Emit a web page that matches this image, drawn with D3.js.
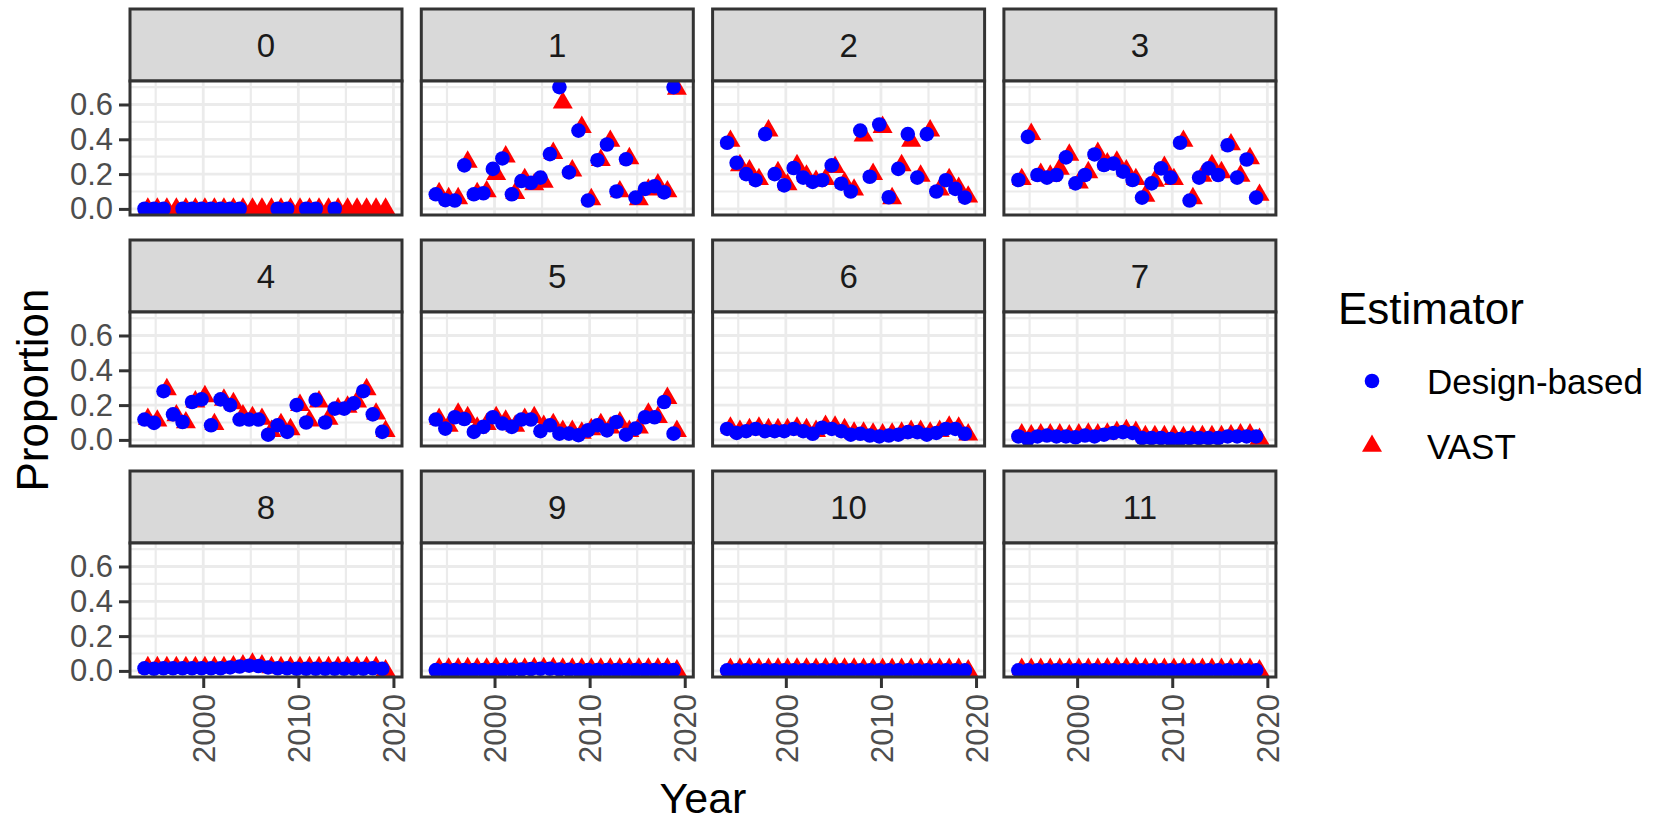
<!DOCTYPE html>
<html>
<head>
<meta charset="utf-8">
<script src="https://cdn.jsdelivr.net/npm/d3@7"></script>
<style>
  body { margin: 0; background: #ffffff; }
  text { font-family: "Liberation Sans", Arial, sans-serif; }
</style>
</head>
<body>
<svg id="chart" width="1670" height="825"></svg>
<script>
// Survey years and age classes (one facet per age)
const years = [1994, 1995, 1996, 1997, 1998, 1999, 2000, 2001, 2002, 2003, 2004, 2005, 2006,
               2007, 2008, 2009, 2010, 2011, 2012, 2013, 2014, 2015, 2016, 2017, 2018, 2019];
const ages = ["0", "1", "2", "3", "4", "5", "6", "7", "8", "9", "10", "11"];
const estimators = ["Design-based", "VAST"];

// Proportion at age, design-based estimator (null = no estimate that year)
const design0 = [0.001, 0.001, 0.001, null, 0.001, 0.001, 0.001, 0.001, 0.001, 0.001, 0.001, null, null,
                 null, 0.001, 0.001, null, 0.001, 0.001, null, 0.001, null, null, null, null, null];
const design1 = [0.084, 0.05, 0.048, 0.25, 0.084, 0.09, 0.23, 0.29, 0.084, 0.16, 0.15, 0.18, 0.315,
                 0.70, 0.21, 0.45, 0.048, 0.28, 0.37, 0.10, 0.285, 0.065, 0.115, 0.13, 0.095, 0.70];
const design2 = [0.38, 0.265, 0.20, 0.165, 0.43, 0.20, 0.135, 0.235, 0.18, 0.155, 0.165, 0.25, 0.145,
                 0.10, 0.45, 0.185, 0.485, 0.067, 0.23, 0.43, 0.18, 0.43, 0.10, 0.165, 0.115, 0.065];
const design3 = [0.166, 0.414, 0.195, 0.18, 0.195, 0.296, 0.147, 0.195, 0.313, 0.252, 0.26, 0.214, 0.166,
                 0.065, 0.147, 0.233, 0.18, 0.38, 0.048, 0.18, 0.233, 0.195, 0.366, 0.18, 0.284, 0.065];
const design4 = [0.117, 0.098, 0.28, 0.147, 0.103, 0.218, 0.233, 0.084, 0.233, 0.20, 0.117, 0.117, 0.117,
                 0.03, 0.084, 0.046, 0.20, 0.10, 0.23, 0.10, 0.18, 0.18, 0.21, 0.28, 0.147, 0.046];
const design5 = [0.117, 0.065, 0.13, 0.12, 0.046, 0.075, 0.13, 0.094, 0.075, 0.117, 0.117, 0.05, 0.084,
                 0.036, 0.036, 0.027, 0.055, 0.084, 0.055, 0.103, 0.03, 0.065, 0.13, 0.13, 0.218, 0.036];
const design6 = [0.063, 0.04, 0.05, 0.063, 0.05, 0.05, 0.05, 0.063, 0.05, 0.035, 0.07, 0.063, 0.05,
                 0.03, 0.035, 0.025, 0.02, 0.025, 0.03, 0.045, 0.045, 0.03, 0.04, 0.063, 0.063, 0.035];
const design7 = [0.02, 0.005, 0.02, 0.025, 0.02, 0.02, 0.015, 0.025, 0.02, 0.03, 0.04, 0.045, 0.04,
                 0.01, 0.01, 0.01, 0.005, 0.005, 0.01, 0.01, 0.01, 0.01, 0.02, 0.02, 0.02, 0.02];
const design8 = [0.015, 0.012, 0.015, 0.015, 0.015, 0.015, 0.015, 0.015, 0.015, 0.02, 0.025, 0.03, 0.028,
                 0.02, 0.015, 0.015, 0.012, 0.012, 0.012, 0.012, 0.012, 0.012, 0.012, 0.012, 0.015, 0.012];
const design9 = [0.005, 0.005, 0.005, 0.005, 0.005, 0.005, 0.005, 0.005, 0.006, 0.008, 0.01, 0.012, 0.012,
                 0.008, 0.006, 0.005, 0.005, 0.005, 0.005, 0.005, 0.005, 0.005, 0.005, 0.005, 0.005, 0.005];
const design10 = [0.003, 0.003, 0.003, 0.003, 0.003, 0.003, 0.003, 0.003, 0.003, 0.003, 0.003, 0.003, 0.003,
                  0.003, 0.003, 0.003, 0.003, 0.003, 0.003, 0.003, 0.003, 0.003, 0.003, 0.003, 0.003, 0.003];
const design11 = [0.003, 0.003, 0.003, 0.003, 0.003, 0.003, 0.003, 0.003, 0.003, 0.003, 0.003, 0.003, 0.003,
                  0.003, 0.003, 0.003, 0.003, 0.003, 0.003, 0.003, 0.003, 0.003, 0.003, 0.003, 0.003, 0.003];

// Proportion at age, VAST model-based estimator
const vast0 = [0.001, 0.001, 0.001, 0.001, 0.001, 0.001, 0.001, 0.001, 0.001, 0.001, 0.001, 0.001, 0.001,
               0.001, 0.001, 0.001, 0.001, 0.001, 0.001, 0.001, 0.001, 0.001, 0.001, 0.001, 0.001, 0.0];
const vast1 = [0.09, 0.06, 0.06, 0.27, 0.09, 0.10, 0.20, 0.30, 0.09, 0.17, 0.14, 0.155, 0.32,
               0.61, 0.22, 0.47, 0.055, 0.28, 0.39, 0.10, 0.29, 0.055, 0.11, 0.14, 0.10, 0.69];
const vast2 = [0.39, 0.25, 0.22, 0.17, 0.45, 0.21, 0.14, 0.25, 0.19, 0.16, 0.17, 0.24, 0.15,
               0.11, 0.42, 0.20, 0.47, 0.06, 0.25, 0.39, 0.19, 0.45, 0.11, 0.17, 0.12, 0.07];
const vast3 = [0.17, 0.43, 0.20, 0.19, 0.23, 0.31, 0.15, 0.21, 0.32, 0.26, 0.27, 0.22, 0.17,
               0.075, 0.16, 0.24, 0.17, 0.39, 0.06, 0.19, 0.25, 0.21, 0.37, 0.19, 0.29, 0.08];
const vast4 = [0.12, 0.11, 0.29, 0.14, 0.10, 0.22, 0.25, 0.09, 0.23, 0.21, 0.14, 0.13, 0.12,
               0.05, 0.09, 0.06, 0.20, 0.11, 0.22, 0.12, 0.18, 0.19, 0.22, 0.29, 0.15, 0.05];
const vast5 = [0.12, 0.08, 0.15, 0.13, 0.07, 0.09, 0.13, 0.11, 0.08, 0.12, 0.13, 0.08, 0.09,
               0.05, 0.05, 0.04, 0.06, 0.09, 0.07, 0.10, 0.05, 0.07, 0.15, 0.13, 0.24, 0.05];
const vast6 = [0.07, 0.05, 0.06, 0.07, 0.06, 0.06, 0.06, 0.07, 0.06, 0.05, 0.08, 0.075, 0.06,
               0.04, 0.04, 0.035, 0.03, 0.035, 0.04, 0.05, 0.05, 0.04, 0.05, 0.075, 0.07, 0.03];
const vast7 = [0.03, 0.025, 0.03, 0.03, 0.03, 0.025, 0.03, 0.035, 0.03, 0.035, 0.045, 0.055, 0.045,
               0.02, 0.02, 0.02, 0.02, 0.015, 0.02, 0.02, 0.02, 0.02, 0.025, 0.03, 0.03, 0.005];
const vast8 = [0.02, 0.02, 0.02, 0.02, 0.02, 0.02, 0.02, 0.02, 0.02, 0.025, 0.03, 0.04, 0.03,
               0.02, 0.02, 0.02, 0.02, 0.02, 0.02, 0.02, 0.02, 0.02, 0.02, 0.02, 0.02, 0.002];
const vast9 = [0.012, 0.012, 0.012, 0.015, 0.012, 0.012, 0.015, 0.012, 0.012, 0.012, 0.015, 0.015, 0.015,
               0.012, 0.012, 0.012, 0.012, 0.012, 0.012, 0.012, 0.012, 0.012, 0.012, 0.012, 0.012, 0.002];
const vast10 = [0.01, 0.01, 0.012, 0.01, 0.01, 0.012, 0.01, 0.012, 0.012, 0.01, 0.012, 0.015, 0.012,
                0.012, 0.01, 0.01, 0.01, 0.01, 0.01, 0.01, 0.01, 0.01, 0.01, 0.01, 0.01, 0.002];
const vast11 = [0.01, 0.01, 0.01, 0.01, 0.01, 0.01, 0.01, 0.01, 0.01, 0.012, 0.015, 0.012, 0.015,
                0.01, 0.01, 0.01, 0.01, 0.01, 0.01, 0.01, 0.01, 0.01, 0.01, 0.01, 0.01, 0.002];

const designByAge = [design0, design1, design2, design3, design4, design5,
                     design6, design7, design8, design9, design10, design11];
const vastByAge = [vast0, vast1, vast2, vast3, vast4, vast5,
                   vast6, vast7, vast8, vast9, vast10, vast11];

// Axis ticks
const yMajor = [0, 0.2, 0.4, 0.6];
const yMinor = [0.1, 0.3, 0.5, 0.7];
const xMajor = [2000, 2010, 2020];
const xMinor = [1995, 2005, 2015];

// ---- layout ----
const nCol = 4;
const panelLeft0 = 130, colPitch = 291.3, panelW = 272;
const stripTop0 = 9, rowPitch = 231, stripH = 72, panelH = 134;
const dodge = 0.175;
const tickFont = 31;

const colors = { "Design-based": "#0000FF", "VAST": "#FF0000" };
const border = "#333333";

const svg = d3.select("#chart");

const x = d3.scaleLinear().domain([1992.3, 2020.9]).range([0, panelW]);
const y = d3.scaleLinear().domain([-0.035, 0.735]).range([panelH, 0]);

// filled-circle and filled-triangle symbols (triangle centred on its centroid)
const rCircle = 7.3;
function trianglePath(cx, cy) {
  const half = 10, up = 11.6, down = 5.8;
  return `M${cx},${cy - up}L${cx + half},${cy + down}L${cx - half},${cy + down}Z`;
}

svg.append("defs").append("clipPath").attr("id", "panel-clip")
  .append("rect").attr("x", 0).attr("y", 0).attr("width", panelW).attr("height", panelH);

ages.forEach((age, i) => {
  const col = i % nCol, row = Math.floor(i / nCol);
  const left = panelLeft0 + col * colPitch;
  const stripTop = stripTop0 + row * rowPitch;
  const top = stripTop + stripH;

  // strip
  const strip = svg.append("g").attr("transform", `translate(${left},${stripTop})`);
  strip.append("rect").attr("width", panelW).attr("height", stripH)
    .attr("fill", "#D9D9D9").attr("stroke", border).attr("stroke-width", 3);
  strip.append("text").attr("x", panelW / 2).attr("y", stripH / 2)
    .attr("dy", "0.36em").attr("text-anchor", "middle")
    .attr("font-size", 33).attr("fill", "#1A1A1A").text(age);

  const g = svg.append("g").attr("transform", `translate(${left},${top})`);
  g.append("rect").attr("width", panelW).attr("height", panelH).attr("fill", "#FFFFFF");

  // grid
  const grid = g.append("g");
  grid.selectAll(".ymin").data(yMinor).join("line")
    .attr("x1", 0).attr("x2", panelW).attr("y1", d => y(d)).attr("y2", d => y(d))
    .attr("stroke", "#EBEBEB").attr("stroke-width", 2.2);
  grid.selectAll(".xmin").data(xMinor).join("line")
    .attr("y1", 0).attr("y2", panelH).attr("x1", d => x(d)).attr("x2", d => x(d))
    .attr("stroke", "#EBEBEB").attr("stroke-width", 2.2);
  grid.selectAll(".ymaj").data(yMajor).join("line")
    .attr("x1", 0).attr("x2", panelW).attr("y1", d => y(d)).attr("y2", d => y(d))
    .attr("stroke", "#EBEBEB").attr("stroke-width", 2.8);
  grid.selectAll(".xmaj").data(xMajor).join("line")
    .attr("y1", 0).attr("y2", panelH).attr("x1", d => x(d)).attr("x2", d => x(d))
    .attr("stroke", "#EBEBEB").attr("stroke-width", 2.8);

  // points: VAST triangles underneath, design-based circles on top
  const pts = g.append("g").attr("clip-path", "url(#panel-clip)");
  const vastPts = years.map((yr, k) => ({ yr, v: vastByAge[i][k] })).filter(d => d.v != null);
  const designPts = years.map((yr, k) => ({ yr, v: designByAge[i][k] })).filter(d => d.v != null);
  pts.selectAll("path.vast").data(vastPts).join("path").attr("class", "vast")
    .attr("d", d => trianglePath(x(d.yr + dodge), y(d.v)))
    .attr("fill", colors["VAST"]);
  pts.selectAll("circle.design").data(designPts).join("circle").attr("class", "design")
    .attr("cx", d => x(d.yr - dodge)).attr("cy", d => y(d.v)).attr("r", rCircle)
    .attr("fill", colors["Design-based"]);

  // panel border
  g.append("rect").attr("width", panelW).attr("height", panelH)
    .attr("fill", "none").attr("stroke", border).attr("stroke-width", 3);

  // y axis on first column
  if (col === 0) {
    const ya = g.append("g").call(d3.axisLeft(y).tickValues(yMajor)
      .tickFormat(d3.format(".1f")).tickSize(11).tickPadding(6));
    ya.select(".domain").remove();
    ya.selectAll(".tick line").attr("stroke", border).attr("stroke-width", 3);
    ya.selectAll(".tick text").attr("font-size", tickFont).attr("fill", "#4D4D4D")
      .attr("font-family", "'Liberation Sans', Arial, sans-serif");
  }
  // x axis on bottom row
  if (row === 2) {
    const xa = g.append("g").attr("transform", `translate(0,${panelH})`)
      .call(d3.axisBottom(x).tickValues(xMajor).tickFormat(d3.format("d")).tickSize(11));
    xa.select(".domain").remove();
    xa.selectAll(".tick line").attr("stroke", border).attr("stroke-width", 3);
    xa.selectAll(".tick text")
      .attr("transform", "rotate(-90)")
      .attr("x", -17).attr("y", 0).attr("dy", "0.36em")
      .attr("text-anchor", "end")
      .attr("font-size", tickFont).attr("fill", "#4D4D4D")
      .attr("font-family", "'Liberation Sans', Arial, sans-serif");
  }
});

// axis titles
const panelsLeft = panelLeft0, panelsRight = panelLeft0 + 3 * colPitch + panelW;
svg.append("text")
  .attr("transform", `translate(32,390) rotate(-90)`)
  .attr("text-anchor", "middle").attr("dy", "0.36em")
  .attr("font-size", 44).attr("fill", "#000000").text("Proportion");
svg.append("text")
  .attr("x", (panelsLeft + panelsRight) / 2).attr("y", 813)
  .attr("text-anchor", "middle")
  .attr("font-size", 43).attr("fill", "#000000").text("Year");

// legend
const legend = svg.append("g");
legend.append("text").attr("x", 1338).attr("y", 324)
  .attr("font-size", 44).attr("fill", "#000000").text("Estimator");
const keyY = [381, 446];
estimators.forEach((name, k) => {
  if (name === "VAST") {
    legend.append("path").attr("d", trianglePath(1372, keyY[k])).attr("fill", colors[name]);
  } else {
    legend.append("circle").attr("cx", 1372).attr("cy", keyY[k]).attr("r", rCircle)
      .attr("fill", colors[name]);
  }
  legend.append("text").attr("x", 1427).attr("y", keyY[k]).attr("dy", "0.36em")
    .attr("font-size", 35).attr("fill", "#000000").text(name);
});
</script>
</body>
</html>
